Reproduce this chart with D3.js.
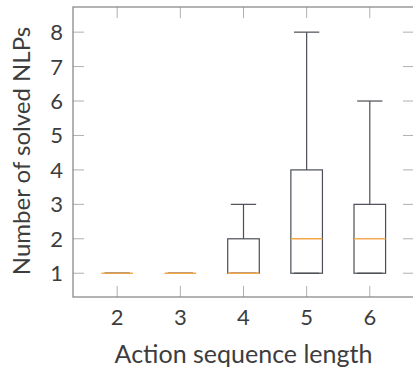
<!DOCTYPE html>
<html>
<head>
<meta charset="utf-8">
<script src="https://cdn.jsdelivr.net/npm/d3@7"></script>
<style>
  body { margin: 0; background: #fff; }
  text { font-family: Lato, "Open Sans", sans-serif; fill: #3d3d3d; }
</style>
</head>
<body>
<div id="chart"></div>
<script>
// Action sequence lengths and box statistics
const lengths = [2, 3, 4, 5, 6];
const whiskerLow = [1, 1, 1, 1, 1];
const q1 = [1, 1, 1, 1, 1];
const median = [1, 1, 1, 2, 2];
const q3 = [1, 1, 2, 4, 3];
const whiskerHigh = [1, 1, 3, 8, 6];
const yTicks = [1, 2, 3, 4, 5, 6, 7, 8];

const W = 413, H = 369;
const plot = { left: 73, right: 414, top: 7, bottom: 297 };

const svg = d3.select("#chart").append("svg")
    .attr("width", W)
    .attr("height", H);

const x = d3.scaleLinear().domain([1.3, 6.7]).range([plot.left, plot.right]);
const y = d3.scaleLinear().domain([0.31, 8.73]).range([plot.bottom, plot.top]);

const tickColor = "#b0b0b0";
const spineColor = "#808080";
const boxColor = "#4a4e54";
const medColor = "#f5a747";
const tickLen = 11;

// inward ticks on all four sides
const g = svg.append("g");
lengths.forEach(v => {
    g.append("line").attr("x1", x(v)).attr("x2", x(v))
        .attr("y1", plot.bottom).attr("y2", plot.bottom - tickLen)
        .attr("stroke", tickColor).attr("stroke-width", 1);
    g.append("line").attr("x1", x(v)).attr("x2", x(v))
        .attr("y1", plot.top).attr("y2", plot.top + tickLen)
        .attr("stroke", tickColor).attr("stroke-width", 1);
});
yTicks.forEach(v => {
    g.append("line").attr("x1", plot.left).attr("x2", plot.left + tickLen)
        .attr("y1", y(v)).attr("y2", y(v))
        .attr("stroke", tickColor).attr("stroke-width", 1);
    g.append("line").attr("x1", plot.right).attr("x2", plot.right - tickLen)
        .attr("y1", y(v)).attr("y2", y(v))
        .attr("stroke", tickColor).attr("stroke-width", 1);
});

// frame
svg.append("rect")
    .attr("x", plot.left).attr("y", plot.top)
    .attr("width", plot.right - plot.left).attr("height", plot.bottom - plot.top)
    .attr("fill", "none")
    .attr("stroke", spineColor)
    .attr("stroke-width", 1.2);

// boxes
const boxHalf = 0.25, capHalf = 0.2;
lengths.forEach((v, i) => {
    const bg = svg.append("g");
    // whiskers
    if (whiskerHigh[i] > q3[i]) {
        bg.append("line").attr("x1", x(v)).attr("x2", x(v))
            .attr("y1", y(q3[i])).attr("y2", y(whiskerHigh[i]))
            .attr("stroke", boxColor).attr("stroke-width", 1.2);
    }
    if (whiskerLow[i] < q1[i]) {
        bg.append("line").attr("x1", x(v)).attr("x2", x(v))
            .attr("y1", y(q1[i])).attr("y2", y(whiskerLow[i]))
            .attr("stroke", boxColor).attr("stroke-width", 1.2);
    }
    // caps
    [whiskerLow[i], whiskerHigh[i]].forEach(c => {
        bg.append("line").attr("x1", x(v - capHalf)).attr("x2", x(v + capHalf))
            .attr("y1", y(c)).attr("y2", y(c))
            .attr("stroke", boxColor).attr("stroke-width", 1.2);
    });
    // box
    bg.append("rect")
        .attr("x", x(v - boxHalf)).attr("y", y(q3[i]))
        .attr("width", x(v + boxHalf) - x(v - boxHalf))
        .attr("height", y(q1[i]) - y(q3[i]))
        .attr("fill", "none")
        .attr("stroke", boxColor).attr("stroke-width", 1.2);
    // median
    bg.append("line").attr("x1", x(v - boxHalf)).attr("x2", x(v + boxHalf))
        .attr("y1", y(median[i])).attr("y2", y(median[i]))
        .attr("stroke", medColor).attr("stroke-width", 1.4);
});

// tick labels
svg.selectAll(".xl").data(lengths).enter().append("text")
    .attr("x", d => x(d)).attr("y", 325)
    .attr("text-anchor", "middle")
    .style("font-size", "22px")
    .text(d => d);
svg.selectAll(".yl").data(yTicks).enter().append("text")
    .attr("x", 63).attr("y", d => y(d) + 8)
    .attr("text-anchor", "end")
    .style("font-size", "22px")
    .text(d => d);

// axis titles
svg.append("text")
    .attr("x", (x(2) + x(6)) / 2).attr("y", 363)
    .attr("text-anchor", "middle")
    .style("font-size", "25px")
    .text("Action sequence length");
svg.append("text")
    .attr("transform", "translate(30, 151) rotate(-90)")
    .attr("text-anchor", "middle")
    .style("font-size", "24px")
    .text("Number of solved NLPs");
</script>
</body>
</html>
